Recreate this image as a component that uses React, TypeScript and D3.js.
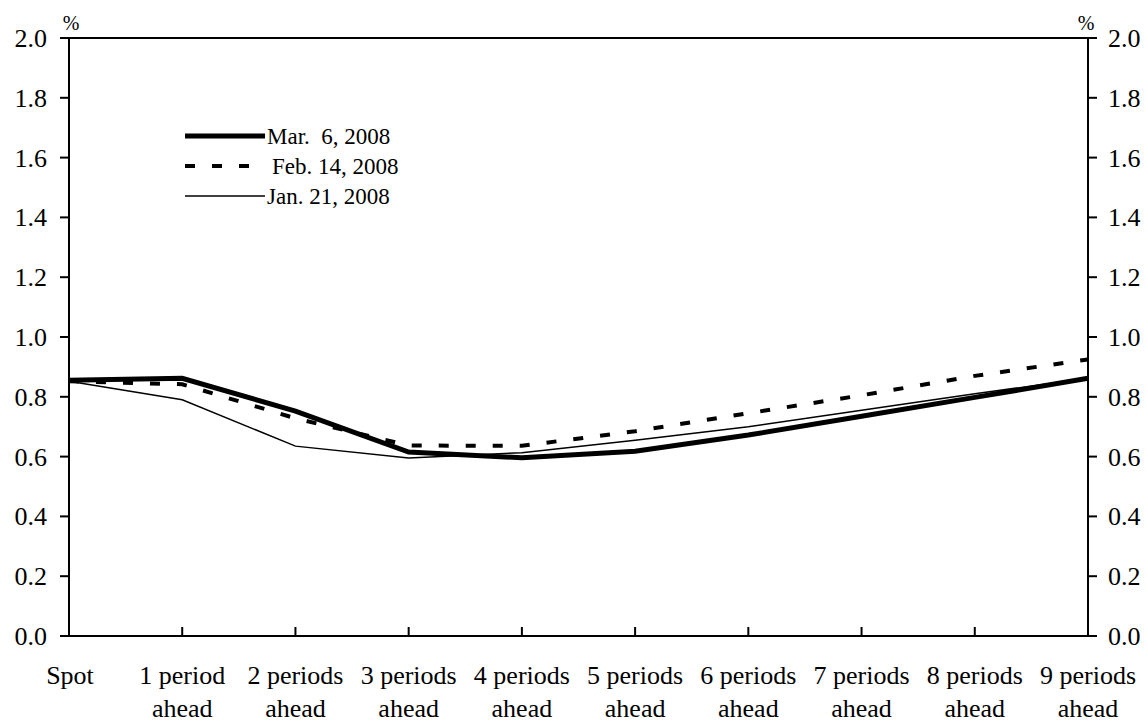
import React from "react";
import * as d3 from "d3";

const categories = ["Spot", "1 period", "2 periods", "3 periods", "4 periods", "5 periods", "6 periods", "7 periods", "8 periods", "9 periods"];
const mar6 = [0.855, 0.862, 0.752, 0.615, 0.596, 0.618, 0.672, 0.735, 0.798, 0.862];
const feb14 = [0.852, 0.842, 0.728, 0.637, 0.636, 0.685, 0.745, 0.805, 0.87, 0.925];
const jan21 = [0.852, 0.79, 0.635, 0.595, 0.613, 0.655, 0.70, 0.755, 0.81, 0.862];
const yTicks = [0, 0.2, 0.4, 0.6, 0.8, 1.0, 1.2, 1.4, 1.6, 1.8, 2.0];
const legendLabels = ["Mar.  6, 2008", "Feb. 14, 2008", "Jan. 21, 2008"];

const W = 1147, H = 722;
const L = 69, R = 1088, T = 38, B = 636;
const FONT = "'Liberation Serif', 'Times New Roman', Times, serif";

export default function App() {
  const x = d3.scalePoint<number>().domain(categories.map((_, i) => i)).range([L, R]);
  const y = d3.scaleLinear().domain([0, 2]).range([B, T]);
  const line = d3.line<number>().x((_, i) => x(i)!).y((d) => y(d));
  const series = [
    { data: mar6, w: 5, dash: undefined as string | undefined },
    { data: feb14, w: 4, dash: "10 17" },
    { data: jan21, w: 1.5, dash: undefined },
  ];
  const ts = { fontFamily: FONT, fontSize: 26 } as React.CSSProperties;
  const ls = { fontFamily: FONT, fontSize: 23, whiteSpace: "pre" } as React.CSSProperties;
  return (
    <svg width={W} height={H} style={{ position: "absolute", left: 0, top: 0 }}>
      <rect width={W} height={H} fill="#fff" />
      {series.map((s, k) => (
        <path key={k} d={line(s.data) || ""} fill="none" stroke="#000" strokeWidth={s.w} strokeDasharray={s.dash} strokeLinejoin="miter" />
      ))}
      <line x1={L} x2={L} y1={T} y2={B} stroke="#000" strokeWidth={2} />
      <line x1={R} x2={R} y1={T} y2={B} stroke="#000" strokeWidth={2} />
      <line x1={L - 9} x2={R + 9} y1={B} y2={B} stroke="#000" strokeWidth={2} />
      <line x1={L - 9} x2={R + 9} y1={T} y2={T} stroke="#000" strokeWidth={2} />
      {yTicks.map((t) => (
        <g key={t}>
          <line x1={L - 9} x2={L} y1={y(t)} y2={y(t)} stroke="#000" strokeWidth={2} />
          <line x1={R} x2={R + 9} y1={y(t)} y2={y(t)} stroke="#000" strokeWidth={2} />
          <text x={47} y={y(t) + 9} textAnchor="end" style={ts}>{t.toFixed(1)}</text>
          <text x={1108} y={y(t) + 9} textAnchor="start" style={ts}>{t.toFixed(1)}</text>
        </g>
      ))}
      {categories.map((c, i) => (
        <g key={c}>
          {i > 0 && i < categories.length - 1 && (
            <line x1={x(i)} x2={x(i)} y1={B} y2={B - 9} stroke="#000" strokeWidth={2} />
          )}
          <text x={i === 0 ? L + 1 : x(i)} y={684} textAnchor="middle" style={ts}>{c}</text>
          {i > 0 && (
            <text x={x(i)} y={717} textAnchor="middle" style={ts}>ahead</text>
          )}
        </g>
      ))}
      <text x={L + 2} y={30} textAnchor="middle" style={{ fontFamily: FONT, fontSize: 20 }}>%</text>
      <text x={R - 2} y={30} textAnchor="middle" style={{ fontFamily: FONT, fontSize: 20 }}>%</text>
      {series.map((s, k) => {
        const ly = 136 + k * 30;
        return (
          <g key={k}>
            <line x1={185} x2={265} y1={ly} y2={ly} stroke="#000" strokeWidth={s.w} strokeDasharray={s.dash} />
            <text x={k === 1 ? 272 : 267} y={ly + 8} style={ls}>{legendLabels[k]}</text>
          </g>
        );
      })}
    </svg>
  );
}
